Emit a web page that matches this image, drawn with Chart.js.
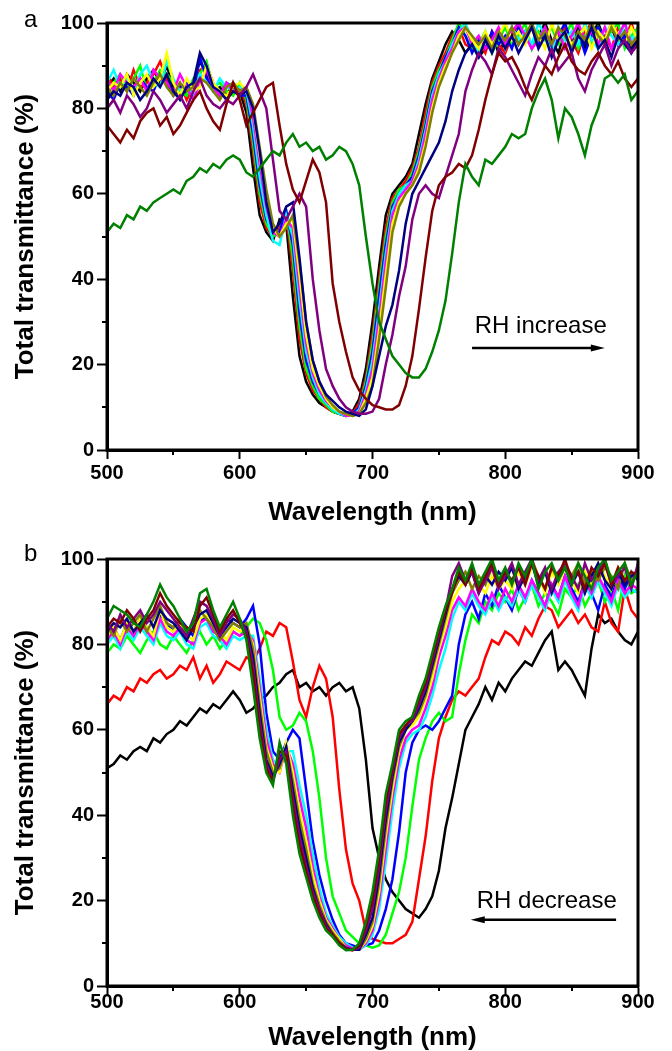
<!DOCTYPE html>
<html><head><meta charset="utf-8">
<script src="https://cdn.jsdelivr.net/npm/chart.js@4.4.0/dist/chart.umd.min.js"></script>
<style>
html,body{margin:0;padding:0;background:#fff;}
body{width:672px;height:1051px;position:relative;overflow:hidden;}
canvas{position:absolute;left:0;}
.panel{position:absolute;font-family:"Liberation Sans",Arial,sans-serif;font-size:24px;color:#000;line-height:26px;}
</style></head><body>
<canvas id="ca" width="672" height="530" style="top:0;width:672px;height:530px"></canvas>
<canvas id="cb" width="672" height="521" style="top:530px;width:672px;height:521px"></canvas>
<div class="panel" style="left:24px;top:6px">a</div>
<div class="panel" style="left:24px;top:540px">b</div>
<script>
const WAVELENGTH = [500,505,510,515,520,525,530,535,540,545,550,555,560,565,570,575,580,585,590,595,600,605,610,615,620,625,630,635,640,645,650,655,660,665,670,675,680,685,690,695,700,705,710,715,720,725,730,735,740,745,750,755,760,765,770,775,780,785,790,795,800,805,810,815,820,825,830,835,840,845,850,855,860,865,870,875,880,885,890,895,900];
const X_TICKS = [500,600,700,800,900];
const X_MINOR = [550,650,750,850];
const Y_TICKS = [0,20,40,60,80,100];
const Y_MINOR = [10,30,50,70,90];
const SERIES_NAMES = ['Black','Red','Green','Blue','Cyan','Magenta','Yellow','Dark yellow','Navy','Purple','Wine','Olive'];
const SERIES_COLORS = ['#000000','#FF0000','#00FF00','#0000FF','#00FFFF','#FF00FF','#FFFF00','#808000','#000080','#800080','#800000','#008000'];

// Panel a: RH increase
const A_BLACK = [85,87,84,88,86,84,87,89,86,90, 85,83,84,86,91,88,84,85,83,86, 84,79,66,55,51,49,54,53,36,22, 16,13,11,10,9,8.5,8,9,12,19, 30,43,55,60,62,64,67,74,81,87, 91,95,98,96,93,95,92,94,97,93, 96,99,95,98,94,97,100,96,93,98, 95,99,94,97,100,96,99,95,98,94, 97];
const A_RED = [88,85,87,84,89,85,86,88,91,87, 84,86,82,85,89,90,86,83,85,84, 85,81,70,58,52,50,52,55,42,26, 18,14,12,10,9,8.5,8,8.5,11,17, 27,40,52,59,61,63,66,71,79,86, 90,93,97,99,95,94,96,93,98,95, 93,97,100,96,99,95,98,94,97,99, 96,93,98,100,95,97,94,99,96,100, 95];
const A_GREEN = [83,86,88,85,87,90,84,86,89,88, 86,84,83,87,88,91,85,86,84,83, 86,82,72,60,53,50,51,56,45,29, 19,15,12,10.5,9,8.5,8,8.5,10,16, 25,38,50,58,61,62,65,70,77,85, 89,92,96,100,97,94,95,98,93,96, 99,95,97,100,94,98,96,99,95,97, 100,94,97,95,99,96,98,100,94,97, 99];
const A_BLUE = [84,82,86,85,83,87,85,84,88,86, 83,85,86,84,92,87,85,83,86,85, 83,83,74,62,54,51,51,56,48,32, 21,16,13,11,9.5,8.5,8,8.5,10,15, 23,36,48,57,60,62,64,69,76,84, 88,92,95,99,97,93,96,94,98,95, 97,94,99,96,100,95,98,94,97,100, 95,98,93,97,99,96,100,95,97,93, 96];
const A_CYAN = [86,89,85,87,84,88,90,86,85,91, 87,84,85,83,88,86,84,87,85,84, 85,84,76,64,55,49,48,55,50,35, 23,17,13,11,9.5,8.5,8,8,9.5,14, 21,33,46,56,60,62,63,68,75,83, 88,91,95,98,100,96,93,97,95,98, 94,99,96,98,95,100,97,93,99,96, 98,95,100,96,94,99,97,95,100,96, 98];
const A_MAGENTA = [87,84,88,86,85,87,84,89,87,86, 84,88,85,82,86,89,85,83,86,84, 84,85,78,67,57,51,50,54,52,38, 25,18,14,11.5,10,9,8,8,9,13, 19,31,44,55,59,61,63,67,74,82, 87,91,94,98,99,95,97,94,96,99, 95,98,100,97,94,96,99,95,98,94, 97,100,96,98,95,99,94,97,100,95, 97];
const A_YELLOW = [84,86,85,88,83,86,88,85,87,93, 86,83,87,84,85,90,86,84,83,85, 86,84,80,69,59,52,50,53,54,41, 27,19,15,12,10,9,8.5,8,8.5,12, 17,28,41,53,58,60,62,66,72,80, 86,90,93,97,99,96,94,98,95,97, 100,96,98,95,99,97,94,100,96,98, 95,97,99,94,98,96,100,97,95,99, 96];
const A_DKYELLOW = [85,83,86,84,87,85,83,86,88,85, 83,86,84,85,87,86,84,82,85,86, 84,85,81,71,61,53,50,52,55,44, 30,21,16,12.5,10.5,9,8.5,8,8.5,11, 15,26,38,51,57,60,62,65,71,79, 85,89,93,96,99,97,95,97,94,98, 96,99,95,97,100,96,98,95,99,97, 94,98,96,100,97,95,99,96,98,95, 97];
const A_NAVY = [82,84,83,86,85,82,84,87,85,88, 84,82,85,86,93,90,85,84,82,84, 83,84,80,70,58,51,53,57,58,45, 30,21,16,13,11.5,10,9,8.5,8,9.5, 15,22,29,34,42,53,60,63,66,69, 72,77,84,89,93,95,92,96,93,97, 94,97,93,96,99,94,97,92,96,98, 93,97,95,99,94,96,92,97,95,93, 96];
const A_PURPLE = [80,82,79,83,81,78,80,84,82,79, 81,83,80,84,87,83,81,80,82,81, 83,85,88,84,80,68,56,54,57,60, 57,40,28,19,15,12,10,9,8.5,8.5, 9,12,20,27,36,43,54,60,62,60, 59,64,69,74,84,89,93,91,88,94, 92,89,86,83,88,92,90,94,89,91, 93,87,84,89,92,95,90,94,96,93, 95];
const A_WINE = [76,74,72,75,73,77,79,80,76,78, 74,76,79,82,84,80,77,75,81,86, 82,76,79,82,85,86,76,67,61,58, 63,68,65,58,39,30,23,17,14,12, 10.5,10,9.5,9.5,10.5,15,22,33,45,56, 62,64,65,67,66,69,75,82,88,93, 91,92,89,85,82,86,90,88,92,95, 91,89,88,91,93,90,88,91,87,85, 87];
const A_OLIVE = [51,53,52,55,54,57,56,58,59,60, 61,60,63,64,66,65,67,66,68,69, 68,65,64,66,68,70,69,72,74,71, 72,70,71,68,69,71,70,67,62,50, 39,30,26,22,20,18,17,17,19,23, 28,35,46,58,67,64,62,68,67,69, 71,74,73,74,80,84,87,82,73,80, 78,74,69,76,80,87,88,86,88,82, 84];

// Panel b: RH decrease
const B_BLACK = [51,52,54,53,55,56,55,58,57,59, 60,62,61,63,65,64,66,65,67,69, 67,64,65,67,68,70,71,73,74,70, 71,69,70,68,70,71,69,70,65,53, 37,30,25,22,20,18,17,16,18,21, 27,37,44,52,60,63,66,70,67,71, 69,72,74,76,75,78,81,83,74,76, 74,71,68,79,87,85,86,83,81,80, 83];
const B_RED = [66,68,67,70,69,72,71,73,74,72, 73,75,74,77,72,75,71,73,76,75, 74,77,76,79,83,82,85,84,76,67, 63,70,75,72,63,46,32,24,20,13, 11,10.5,10,10,11,12,15,25,35,48, 58,63,67,69,68,70,72,77,81,80, 83,82,80,84,82,86,89,88,84,86, 88,85,87,84,83,90,85,83,93,88, 86];
const B_GREEN = [78,80,79,82,80,78,81,83,80,79, 82,80,78,81,83,80,82,79,81,83, 82,84,86,85,81,74,63,60,61,64, 62,55,44,30,21,17,13,11.5,10,9.5, 9,9.5,12,17,22,30,42,53,58,62, 64,62,63,73,81,87,85,90,88,92, 90,93,88,91,94,89,92,90,87,93, 91,94,89,92,95,90,93,88,96,92, 93];
const B_BLUE = [82,84,81,85,83,86,84,82,87,85, 83,86,84,82,85,87,84,83,86,85, 84,86,89,80,64,55,53,57,60,58, 46,34,26,20,15.5,12,10,9.5,9,9.5, 10,13,18,25,36,50,57,60,61,60, 62,65,68,80,87,90,86,92,89,94, 91,88,93,90,95,92,89,94,91,96, 93,90,95,92,88,94,91,96,93,97, 95];
const B_CYAN = [80,82,79,83,81,84,82,80,85,82, 81,83,80,79,84,85,82,81,79,82, 81,82,82,72,60,53,51,55,55,47, 40,31,23,17,14,11.5,10,9,8.5,9.5, 12,18,29,41,51,57,59,60,63,68, 74,79,86,90,88,92,89,87,91,88, 91,89,93,90,94,91,88,93,90,95, 91,88,94,91,95,92,89,94,91,93, 92];
const B_MAGENTA = [81,83,80,84,82,85,83,81,86,83, 82,84,81,80,85,86,83,82,80,83, 82,83,81,70,58,52,50,56,52,44, 37,28,21,16,13.5,11,9.5,8.8,8.5,10, 13,20,32,44,53,58,60,61,65,70, 77,82,88,91,89,93,90,88,92,89, 93,90,94,91,95,92,89,94,91,96, 92,89,95,92,96,93,90,95,92,94, 93];
const B_YELLOW = [82,84,81,85,83,86,84,82,88,84, 83,85,82,81,86,87,84,83,81,84, 83,84,80,68,56,51,50,57,50,41, 34,26,20,15.5,13,11,9,8.5,8.5,10.5, 14,22,35,46,55,60,61,63,67,72, 79,84,90,93,95,97,94,92,96,93, 95,93,97,94,98,96,92,97,94,98, 95,92,97,94,99,96,93,98,95,97, 96];
const B_DKYELLOW = [84,82,86,83,85,87,83,86,89,85, 84,86,82,84,88,86,84,81,83,85, 84,85,79,66,55,50,51,56,48,39, 32,24,19,15,12.5,10.5,9,8.5,8.5,11, 15,24,37,48,56,60,62,64,68,74, 80,86,92,95,97,93,96,94,98,95, 97,94,98,95,100,96,93,98,95,99, 96,99,94,97,95,98,96,93,99,95, 98];
const B_NAVY = [83,85,84,86,83,85,87,84,88,86, 85,83,81,84,87,88,85,82,84,86, 85,84,77,64,53,49,52,56,46,37, 30,23,18,14.5,12,10,9,8.5,8.5,12, 16,26,39,49,57,60,62,65,69,75, 81,87,93,96,94,97,92,96,94,97, 95,98,93,96,99,94,97,92,96,98, 94,97,92,96,99,95,93,97,94,96, 97];
const B_PURPLE = [85,83,87,84,86,88,85,87,90,88, 86,84,82,86,90,89,86,82,85,87, 86,83,75,62,52,48,53,55,44,35, 28,22,18,14,12,10,8.8,8.4,9,13, 18,28,41,50,58,61,62,66,70,76, 82,88,96,99,95,97,92,95,98,93, 96,99,94,97,100,95,98,93,97,99, 96,93,99,95,97,100,94,96,98,93, 99];
const B_WINE = [84,86,85,88,86,83,86,88,92,89, 87,85,84,83,89,91,87,83,86,88, 85,82,73,60,51,48,55,54,42,33, 27,21,17,13.5,12,10,8.6,8.4,9.5,14, 20,30,43,51,59,61,63,67,71,77, 83,88,92,97,94,98,93,96,99,94, 97,95,98,94,99,96,93,98,96,100, 95,97,93,98,96,99,94,98,95,97, 96];
const B_OLIVE = [86,89,88,87,85,84,87,90,94,91, 89,86,83,85,92,93,88,84,87,90, 86,81,70,58,50,47,57,52,40,31, 25.5,20,16,13,11.5,9.5,8.4,8.5,10,15, 22,32,45,52,60,62,63,68,72,78, 84,89,93,98,95,99,94,97,100,95, 98,94,99,96,100,93,97,99,95,98, 94,99,96,93,98,100,95,97,99,94, 97];

const SERIES_A = [A_BLACK,A_RED,A_GREEN,A_BLUE,A_CYAN,A_MAGENTA,A_YELLOW,A_DKYELLOW,A_NAVY,A_PURPLE,A_WINE,A_OLIVE];
const SERIES_B = [B_BLACK,B_RED,B_GREEN,B_BLUE,B_CYAN,B_MAGENTA,B_YELLOW,B_DKYELLOW,B_NAVY,B_PURPLE,B_WINE,B_OLIVE];

const NOTE_A = {text:'RH increase', textX:777, textY:27.4, arrowFrom:775, arrowTo:875, arrowY:23.9};
const NOTE_B = {text:'RH decrease', textX:778.5, textY:18.3, arrowFrom:883.5, arrowTo:774, arrowY:15.5};

const FONT = '"Liberation Sans", Arial, Helvetica, sans-serif';

function buildDatasets(series){
  const n = series.length;
  return series.map((vals, i) => ({
    label: SERIES_NAMES[i],
    data: WAVELENGTH.map((w, k) => ({x: w, y: vals[k]})),
    borderColor: SERIES_COLORS[i],
    backgroundColor: SERIES_COLORS[i],
    borderWidth: 2.5,
    pointRadius: 0,
    tension: 0,
    fill: false,
    order: n - 1 - i
  }));
}

const framePlugin = {
  id: 'frame',
  afterDraw(chart){
    const {ctx, chartArea:{left, top, right, bottom}, scales:{x, y}} = chart;
    ctx.save();
    ctx.strokeStyle = '#000';
    ctx.lineWidth = 2;
    ctx.beginPath();
    for (const v of Y_MINOR){ const py = Math.round(y.getPixelForValue(v)); ctx.moveTo(left - 5, py); ctx.lineTo(left, py); }
    for (const v of X_MINOR){ const px = Math.round(x.getPixelForValue(v)); ctx.moveTo(px, bottom); ctx.lineTo(px, bottom + 5); }
    ctx.stroke();
    ctx.lineWidth = 3;
    ctx.beginPath();
    ctx.moveTo(left - 1.5, top); ctx.lineTo(right, top); ctx.lineTo(right, bottom + 1.5);
    ctx.moveTo(left, top); ctx.lineTo(left, bottom);
    ctx.moveTo(left - 1.5, bottom); ctx.lineTo(right, bottom);
    ctx.stroke();
    ctx.restore();
  }
};

function notePlugin(note){
  return {
    id: 'rhNote',
    afterDraw(chart){
      const {ctx, scales:{x, y}} = chart;
      ctx.save();
      ctx.fillStyle = '#000'; ctx.strokeStyle = '#000';
      ctx.font = '24px ' + FONT;
      ctx.textAlign = 'left'; ctx.textBaseline = 'alphabetic';
      ctx.fillText(note.text, x.getPixelForValue(note.textX), y.getPixelForValue(note.textY));
      const x1 = x.getPixelForValue(note.arrowFrom), x2 = x.getPixelForValue(note.arrowTo), ay = y.getPixelForValue(note.arrowY);
      const dir = Math.sign(x2 - x1);
      ctx.lineWidth = 2.5;
      ctx.beginPath(); ctx.moveTo(x1, ay); ctx.lineTo(x2 - dir * 8, ay); ctx.stroke();
      ctx.beginPath(); ctx.moveTo(x2, ay); ctx.lineTo(x2 - dir * 14, ay - 3.5); ctx.lineTo(x2 - dir * 14, ay + 3.5); ctx.closePath(); ctx.fill();
      ctx.restore();
    }
  };
}

function makeChart(id, series, note, cfg){
  return new Chart(document.getElementById(id), {
    type: 'line',
    data: { datasets: buildDatasets(series) },
    options: {
      responsive: false, animation: false, devicePixelRatio: 1,
      layout: { padding: { top: cfg.top, right: 34, bottom: 0, left: 0 } },
      plugins: { legend: { display: false }, tooltip: { enabled: false }, title: { display: false } },
      scales: {
        x: {
          type: 'linear', min: 500, max: 900,
          afterBuildTicks: s => { s.ticks = X_TICKS.map(v => ({value: v})); },
          afterFit: s => { s.height = cfg.xHeight; },
          ticks: { color: '#000', font: { family: FONT, size: 20, weight: 'bold' }, padding: cfg.tickPad, maxRotation: 0, autoSkip: false },
          grid: { drawOnChartArea: false, drawTicks: true, tickLength: 9, tickWidth: 2, tickColor: '#000', color: '#000' },
          border: { display: true, color: '#000', width: 3, z: 1 },
          title: { display: true, text: 'Wavelength (nm)', color: '#000', font: { family: FONT, size: 26, weight: 'bold' }, padding: { top: 0, bottom: cfg.titlePad } }
        },
        y: {
          type: 'linear', min: 0, max: 100,
          afterBuildTicks: s => { s.ticks = Y_TICKS.map(v => ({value: v})); },
          afterFit: s => { s.width = 107; },
          ticks: { color: '#000', font: { family: FONT, size: 20, weight: 'bold' }, padding: 3 },
          grid: { drawOnChartArea: false, drawTicks: true, tickLength: 10, tickWidth: 2, tickColor: '#000', color: '#000' },
          border: { display: true, color: '#000', width: 3, z: 1 },
          title: { display: true, text: 'Total transmittance (%)', color: '#000', font: { family: FONT, size: 26, weight: 'bold' }, padding: { top: 10, bottom: 0 } }
        }
      }
    },
    plugins: [framePlugin, notePlugin(note)]
  });
}

makeChart('ca', SERIES_A, NOTE_A, { top: 23, xHeight: 80, tickPad: 2, titlePad: 2 });
makeChart('cb', SERIES_B, NOTE_B, { top: 29, xHeight: 65, tickPad: -5, titlePad: -2 });
</script>
</body></html>
